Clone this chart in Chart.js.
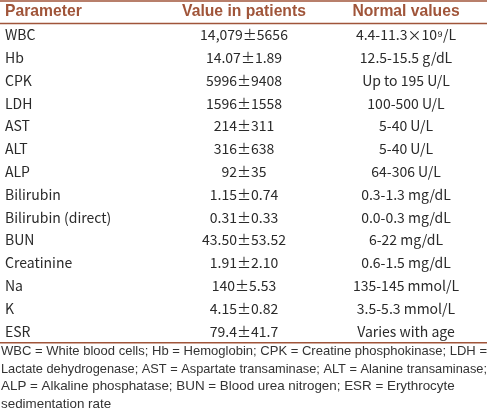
<!DOCTYPE html>
<html>
<head>
<meta charset="utf-8">
<script src="https://cdn.jsdelivr.net/npm/chart.js@4"></script>
<style>
  html, body { margin: 0; padding: 0; background: #fff; }
  canvas { display: block; }
</style>
</head>
<body>
<canvas id="tabla" width="487" height="413"></canvas>
<script>
// table contents
const columns = ['Parameter', 'Value in patients', 'Normal values'];
const parameters = ['WBC', 'Hb', 'CPK', 'LDH', 'AST', 'ALT', 'ALP', 'Bilirubin', 'Bilirubin (direct)', 'BUN', 'Creatinine', 'Na', 'K', 'ESR'];
const patientValues = ['14,079±5656', '14.07±1.89', '5996±9408', '1596±1558', '214±311', '316±638', '92±35', '1.15±0.74', '0.31±0.33', '43.50±53.52', '1.91±2.10', '140±5.53', '4.15±0.82', '79.4±41.7'];
const normalValues = ['4.4-11.3×10⁹/L', '12.5-15.5 g/dL', 'Up to 195 U/L', '100-500 U/L', '5-40 U/L', '5-40 U/L', '64-306 U/L', '0.3-1.3 mg/dL', '0.0-0.3 mg/dL', '6-22 mg/dL', '0.6-1.5 mg/dL', '135-145 mmol/L', '3.5-5.3 mmol/L', 'Varies with age'];
const footnote = [
    'WBC = White blood cells; Hb = Hemoglobin; CPK = Creatine phosphokinase; LDH =',
    'Lactate dehydrogenase; AST = Aspartate transaminase; ALT = Alanine transaminase;',
    'ALP = Alkaline phosphatase; BUN = Blood urea nitrogen; ESR = Erythrocyte',
    'sedimentation rate'
];

const brown = '#a0553a';
const cellTexts = [parameters, patientValues, normalValues];

const tablePlugin = {
    id: 'tablePlugin',
    afterDatasetsDraw(chart) {
        const ctx = chart.ctx;
        const area = chart.chartArea;
        const xs = chart.scales.x;
        ctx.save();
        // rules
        ctx.strokeStyle = brown;
        ctx.lineWidth = 1.5;
        [1, area.top, area.bottom].forEach(y => {
            ctx.beginPath();
            ctx.moveTo(0, y);
            ctx.lineTo(chart.width, y);
            ctx.stroke();
        });
        // header
        ctx.fillStyle = brown;
        ctx.font = 'bold 15.7px "Liberation Sans", Arial, sans-serif';
        ctx.textBaseline = 'middle';
        columns.forEach((c, i) => {
            if (i === 0) {
                ctx.textAlign = 'left';
                ctx.fillText(c, area.left + 4, area.top - 11.5);
            } else {
                ctx.textAlign = 'center';
                ctx.fillText(c, xs.getPixelForValue(i), area.top - 11.5);
            }
        });
        // cells
        ctx.fillStyle = '#2a2a2a';
        ctx.font = '14px "Noto Sans CJK JP", sans-serif';
        chart.data.datasets.forEach((ds, di) => {
            const meta = chart.getDatasetMeta(di);
            meta.data.forEach((pt, i) => {
                if (di === 0) {
                    ctx.textAlign = 'left';
                    ctx.fillText(cellTexts[di][i], area.left + 4, pt.y);
                } else {
                    ctx.textAlign = 'center';
                    ctx.fillText(cellTexts[di][i], pt.x, pt.y);
                }
            });
        });
        ctx.restore();
    }
};

new Chart(document.getElementById('tabla').getContext('2d'), {
    type: 'line',
    data: {
        datasets: columns.map((col, c) => ({
            label: col,
            data: parameters.map(p => ({x: col, y: p})),
            showLine: false,
            pointRadius: 0
        }))
    },
    options: {
        responsive: false,
        animation: false,
        devicePixelRatio: 1,
        layout: { padding: { top: 23.5, left: 1 } },
        scales: {
            x: { type: 'category', labels: columns, offset: true, display: false },
            y: { type: 'category', labels: parameters, offset: true, display: false }
        },
        plugins: {
            legend: { display: false },
            tooltip: { enabled: false },
            title: {
                display: true,
                position: 'bottom',
                align: 'start',
                text: footnote,
                color: '#333',
                padding: 0,
                font: { family: '"Liberation Sans", Arial, sans-serif', size: 13.4, weight: 'normal', lineHeight: 1.31 }
            }
        }
    },
    plugins: [tablePlugin]
});
</script>
</body>
</html>
